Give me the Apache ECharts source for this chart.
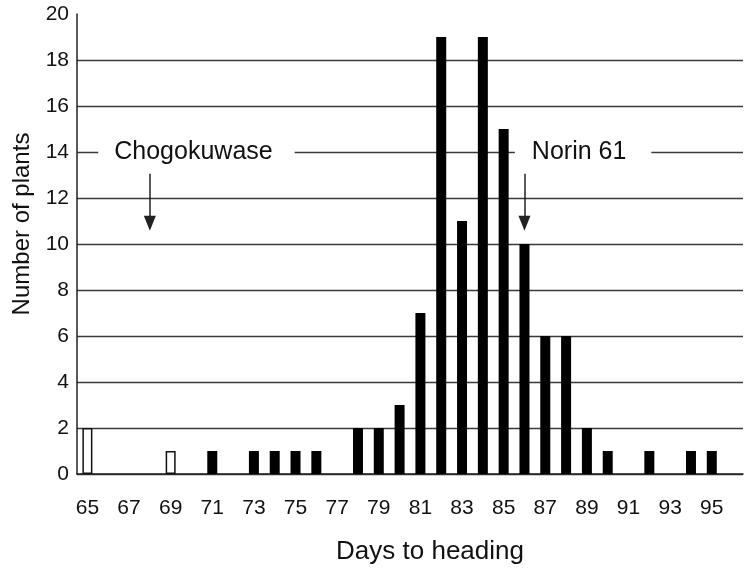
<!DOCTYPE html>
<html>
<head>
<meta charset="utf-8">
<script src="https://cdn.jsdelivr.net/npm/echarts@6/dist/echarts.min.js"></script>
<style>html,body{margin:0;padding:0;background:#fff;}#c{width:750px;height:577px;}</style>
</head>
<body>
<div id="c"></div>
<script>
// Days to heading (category axis; 96 is an empty pad slot at the right end)
const days = ['65','66','67','68','69','70','71','72','73','74','75','76','77','78','79','80','81','82','83','84','85','86','87','88','89','90','91','92','93','94','95','96'];
// Filled bars: number of plants
const filledCounts = ['-',0,0,0,'-',0,1,0,1,1,1,1,0,2,2,3,7,19,11,19,15,10,6,6,2,1,0,1,0,1,1,'-'];
// Open bars: number of plants
const openCounts = [2,'-','-','-',1,'-','-','-','-','-','-','-','-','-','-','-','-','-','-','-','-','-','-','-','-','-','-','-','-','-','-','-'];
const yTicks = [0,2,4,6,8,10,12,14,16,18,20];
// Parent annotations
const parentA = {name:'Chogokuwase', day:'68', labelDay:'70'};
const parentB = {name:'Norin 61', day:'86', labelDay:'88'};

const chart = echarts.init(document.getElementById('c'));
const font = "'Liberation Sans', Arial, sans-serif";
const gridColors = yTicks.map((v,i)=> i===yTicks.length-1 ? 'rgba(0,0,0,0)' : '#3a3a3a');

chart.setOption({
  animation:false,
  backgroundColor:'#fff',
  grid:{left:77,right:7,top:14,bottom:103,containLabel:false,outerBoundsMode:'none'},
  xAxis:{
    type:'category', data:days, boundaryGap:true,
    axisLine:{show:true,lineStyle:{color:'#222',width:1.5}},
    axisTick:{show:false},
    axisLabel:{interval:1,color:'#111',fontSize:21,fontFamily:font,margin:24},
    splitLine:{show:false},
    name:'Days to heading', nameLocation:'middle', nameGap:65,
    nameTextStyle:{color:'#111',fontSize:26,fontFamily:font,padding:[0,0,0,40]}
  },
  yAxis:{
    type:'value', min:0, max:20, interval:2,
    axisLine:{show:true,lineStyle:{color:'#222',width:1.5}},
    axisTick:{show:false},
    axisLabel:{color:'#111',fontSize:21,fontFamily:font,margin:8},
    splitLine:{show:true,lineStyle:{color:gridColors,width:1.3}},
    name:'Number of plants', nameLocation:'middle', nameGap:41,
    nameTextStyle:{color:'#111',fontSize:24,fontFamily:font,padding:[0,0,0,40]}
  },
  series:[
    {
      type:'bar', data:filledCounts, barWidth:10, barGap:'-100%',
      itemStyle:{color:'#000'},
      markPoint:{
        symbol:'circle', symbolSize:0,
        label:{show:true,position:'inside',color:'#111',fontSize:25,fontFamily:font,
               backgroundColor:'#fff'},
        data:[
          {coord:[parentA.labelDay,14], value:parentA.name, label:{formatter:parentA.name, offset:[5,0], padding:[2,22,2,16]}},
          {coord:[parentB.labelDay,14], value:parentB.name, label:{formatter:parentB.name, offset:[17,0], padding:[2,25,2,17]}}
        ]
      },
      markLine:{
        silent:true, symbol:['none','triangle'], symbolSize:[12,15],
        lineStyle:{color:'#222',width:1.5,type:'solid'},
        label:{show:false},
        data:[
          [{coord:[parentA.day,13.05]},{coord:[parentA.day,10.9]}],
          [{coord:[parentB.day,13.05]},{coord:[parentB.day,10.9]}]
        ]
      }
    },
    {
      type:'bar', data:openCounts, barWidth:10, barGap:'-100%',
      itemStyle:{color:'#fff',borderColor:'#111',borderWidth:1.5}
    }
  ]
});
</script>
</body>
</html>
